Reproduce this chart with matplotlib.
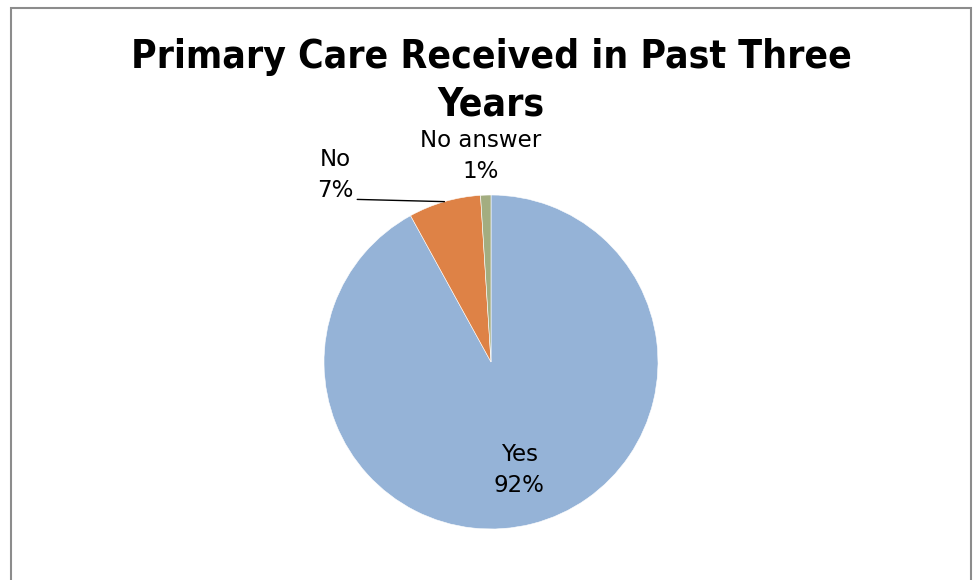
import numpy as np
import matplotlib
matplotlib.use("Agg")
import matplotlib.pyplot as plt
from matplotlib.patches import Rectangle

# Survey answers
categories = ["Yes", "No", "No answer"]
values = [92, 7, 1]
colors = ["#95B3D7", "#DE8246", "#A3AD80"]

W, H, DPI = 973, 580, 100
fig = plt.figure(figsize=(W / DPI, H / DPI), dpi=DPI)
fig.patch.set_facecolor("white")

# Chart frame
fig.add_artist(Rectangle((11 / W, -0.05), (960 / W), 1.05 - 8 / H,
                         transform=fig.transFigure, fill=False,
                         edgecolor="#8c8c8c", linewidth=1.5))

# Title
title_kw = dict(ha="center", va="center", fontsize=28, fontweight="bold",
                family="DejaVu Sans", fontstretch="condensed")
fig.text(491 / W, 1 - 57 / H, "Primary Care Received in Past Three", **title_kw)
fig.text(491 / W, 1 - 105 / H, "Years", **title_kw)

# Pie axes
cx, cy, r = 491, 362, 167
ax = fig.add_axes([(cx - r) / W, 1 - (cy + r) / H, 2 * r / W, 2 * r / H])
wedges, _ = ax.pie(values, colors=colors, startangle=90, counterclock=False,
                   radius=1.0, wedgeprops=dict(edgecolor="white", linewidth=0.4))
ax.set_xlim(-1, 1)
ax.set_ylim(-1, 1)
ax.set_aspect("equal")
ax.axis("off")

fs = 16.5
ls = 1.45
# Label for Yes, inside slice
w = wedges[0]
mid = np.deg2rad((w.theta1 + w.theta2) / 2)
ax.text(0.68 * np.cos(mid), 0.67 * np.sin(mid), f"{categories[0]}\n{values[0]}%",
        ha="center", va="center", fontsize=fs, linespacing=ls)

# Label for No, outside with leader line
w = wedges[1]
mid = np.deg2rad((w.theta1 + w.theta2) / 2)
px, py = np.cos(mid), np.sin(mid)
ax.annotate(f"{categories[1]}\n{values[1]}%", xy=(px, py),
            xytext=(-0.935, 1.12), ha="center", va="center", fontsize=fs,
            linespacing=ls, annotation_clip=False,
            arrowprops=dict(arrowstyle="-", color="black", lw=1.0,
                            shrinkA=1, shrinkB=0,
                            relpos=(1.0, 0.05)))

# Label for No answer, above the pie
ax.text(-0.065, 1.235, f"{categories[2]}\n{values[2]}%", ha="center",
        va="center", fontsize=fs, linespacing=ls, clip_on=False)

fig.savefig("out.png", dpi=DPI)
